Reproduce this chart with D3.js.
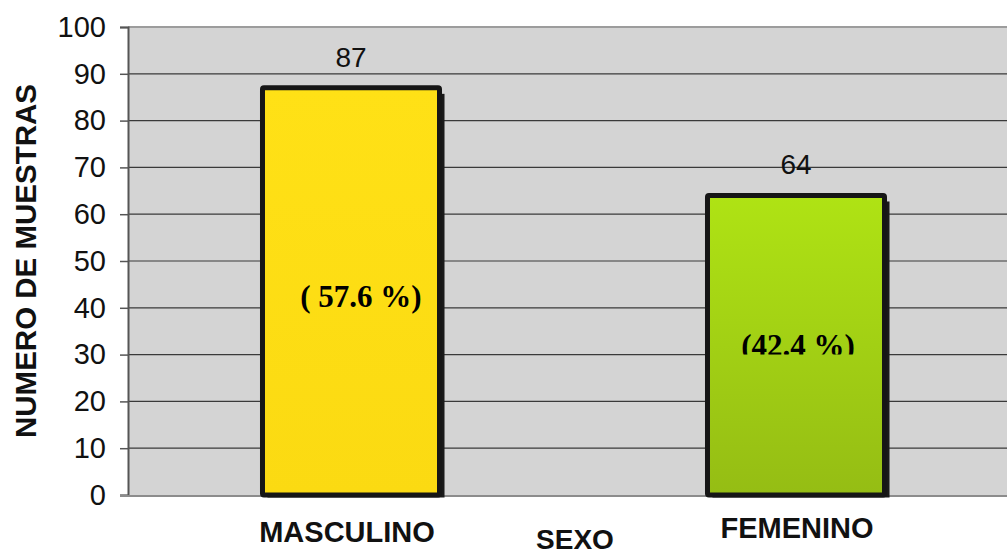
<!DOCTYPE html>
<html>
<head>
<meta charset="utf-8">
<script src="https://cdn.jsdelivr.net/npm/d3@7"></script>
<style>
  html, body { margin: 0; padding: 0; background: #ffffff; }
  svg { display: block; }
</style>
</head>
<body>
<svg id="chart" width="1007" height="556"></svg>
<script>
// ---- data ----
const categories = ["MASCULINO", "FEMENINO"];
const values = [87, 64];
const percentLabels = ["( 57.6 %)", "(42.4 %)"];
const yTicks = [0, 10, 20, 30, 40, 50, 60, 70, 80, 90, 100];
const yTitle = "NUMERO DE MUESTRAS";
const xTitle = "SEXO";

// ---- styles ----
const gradients = [
  { id: "gYellow", top: "#FFE116", bottom: "#FBDA12" },
  { id: "gGreen", top: "#AFE314", bottom: "#95BD14" }
];

const svg = d3.select("#chart");
const W = 1007, H = 556;
const plot = { left: 128, top: 27, right: 1018.5, bottom: 495 };

const x = d3.scaleBand().domain(categories)
  .range([plot.left + 0.5, plot.right])
  .paddingInner(0.6022).paddingOuter(0.3011);
const y = d3.scaleLinear().domain([0, 100]).range([plot.bottom, plot.top]);

const defs = svg.append("defs");
gradients.forEach(g => {
  const lg = defs.append("linearGradient").attr("id", g.id)
    .attr("x1", 0).attr("y1", 0).attr("x2", 0).attr("y2", 1);
  lg.append("stop").attr("offset", "0%").attr("stop-color", g.top);
  lg.append("stop").attr("offset", "100%").attr("stop-color", g.bottom);
});
defs.append("clipPath").attr("id", "plotClip")
  .append("rect").attr("x", 0).attr("y", 0).attr("width", W).attr("height", plot.bottom + 2.5);

// plot background
svg.append("rect")
  .attr("x", plot.left).attr("y", plot.top)
  .attr("width", W - plot.left).attr("height", plot.bottom - plot.top)
  .attr("fill", "#d4d4d4");

// gridlines
svg.append("g").selectAll("line").data(yTicks.filter(d => d > 0 && d < 100)).join("line")
  .attr("x1", plot.left).attr("x2", W)
  .attr("y1", d => y(d)).attr("y2", d => y(d))
  .attr("stroke", "#3a3a3a").attr("stroke-width", 1.2);
// top border
svg.append("line")
  .attr("x1", plot.left).attr("x2", W)
  .attr("y1", y(100)).attr("y2", y(100))
  .attr("stroke", "#9c9c9c").attr("stroke-width", 2);

// y axis
const yAxis = d3.axisLeft(y).tickValues(yTicks).tickSize(8).tickPadding(14);
const gy = svg.append("g").attr("transform", `translate(${plot.left},0)`).call(yAxis);
gy.select(".domain").attr("stroke", "#555").attr("stroke-width", 2);
gy.selectAll(".tick line").attr("stroke", "#555").attr("stroke-width", 1.5);
gy.selectAll(".tick text")
  .attr("font-family", "Liberation Sans, Arial, sans-serif")
  .attr("font-size", 29).attr("fill", "#111");

// bottom axis line
svg.append("line")
  .attr("x1", plot.left - 8).attr("x2", W)
  .attr("y1", plot.bottom + 1).attr("y2", plot.bottom + 1)
  .attr("stroke", "#8c8c8c").attr("stroke-width", 2);

// bars
const bars = svg.append("g");
const bw = x.bandwidth();
// shadows
bars.append("g").attr("clip-path", "url(#plotClip)")
  .selectAll("rect").data(categories).join("rect")
  .attr("x", d => x(d) + 5).attr("y", (d, i) => y(values[i]) + 6)
  .attr("width", bw).attr("height", (d, i) => y(0) - y(values[i]))
  .attr("fill", "#1a1a1a");
bars.append("g").selectAll("rect").data(categories).join("rect")
  .attr("x", d => x(d)).attr("y", (d, i) => y(values[i]))
  .attr("width", bw).attr("height", (d, i) => y(0) - y(values[i]))
  .attr("rx", 1.5)
  .attr("fill", (d, i) => `url(#${gradients[i].id})`)
  .attr("stroke", "#161616").attr("stroke-width", 5);

// value labels
svg.append("g").selectAll("text").data(categories).join("text")
  .attr("x", d => x(d) + bw / 2)
  .attr("y", (d, i) => y(values[i]) - 21)
  .attr("text-anchor", "middle")
  .attr("font-family", "Liberation Sans, Arial, sans-serif")
  .attr("font-size", 28).attr("fill", "#111")
  .text((d, i) => values[i]);

// percent labels
const pctOffsets = [{ dx: 10, val: 40.2 }, { dx: 2, val: 29.6 }];
defs.append("clipPath").attr("id", "pctClip2")
  .append("rect").attr("x", 0).attr("y", 0).attr("width", W).attr("height", 354.5);
svg.append("g").selectAll("text").data(categories).join("text")
  .attr("x", (d, i) => x(d) + bw / 2 + pctOffsets[i].dx)
  .attr("y", (d, i) => y(pctOffsets[i].val))
  .attr("clip-path", (d, i) => i === 1 ? "url(#pctClip2)" : null)
  .attr("text-anchor", "middle")
  .attr("font-family", "Liberation Serif, Times New Roman, serif")
  .attr("font-weight", "bold")
  .attr("font-size", 31).attr("fill", "#000")
  .text((d, i) => percentLabels[i]);

// category labels
const catBase = [542, 538];
svg.append("g").selectAll("text").data(categories).join("text")
  .attr("x", d => x(d) + bw / 2 - (d === categories[0] ? 4 : -1))
  .attr("y", (d, i) => catBase[i])
  .attr("text-anchor", "middle")
  .attr("font-family", "Liberation Sans, Arial, sans-serif")
  .attr("font-weight", "bold")
  .attr("font-size", 29).attr("fill", "#111")
  .text(d => d);

// axis titles
svg.append("text")
  .attr("x", 575).attr("y", 549)
  .attr("text-anchor", "middle")
  .attr("font-family", "Liberation Sans, Arial, sans-serif")
  .attr("font-weight", "bold")
  .attr("font-size", 28).attr("fill", "#111")
  .text(xTitle);

svg.append("text")
  .attr("transform", "translate(36,261) rotate(-90)")
  .attr("text-anchor", "middle")
  .attr("font-family", "Liberation Sans, Arial, sans-serif")
  .attr("font-weight", "bold")
  .attr("font-size", 29.5).attr("fill", "#111")
  .text(yTitle);
</script>
</body>
</html>
